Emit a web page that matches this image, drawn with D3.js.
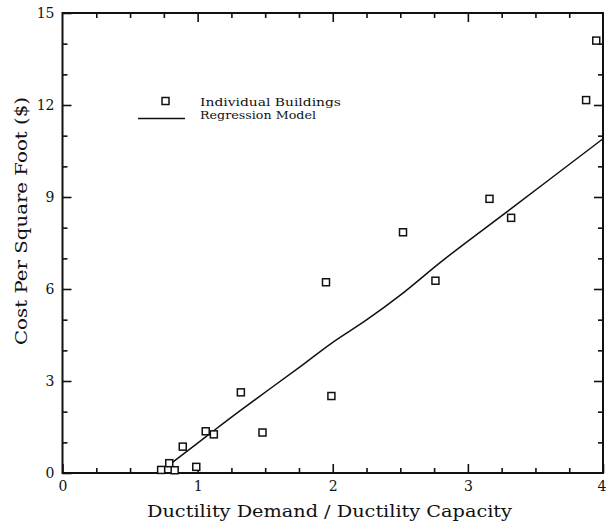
<!DOCTYPE html>
<html><head>
<meta charset="utf-8">
<script src="https://d3js.org/d3.v7.min.js"></script>
<style>
  body { margin: 0; background: #fff; }
  svg text { fill: #111; }
  .axis .domain { stroke: none; }
  .axis line { stroke: #111; stroke-width: 1.6; }
  .ticklabel text { font-family: "DejaVu Serif", serif; font-size: 14px; }
</style>
</head>
<body>
<svg id="chart" width="606" height="525"></svg>
<script>
// buildings (ductility ratio, cost per sq ft)
const ductility = [0.73, 0.79, 0.83, 0.89, 0.99, 1.06, 1.12, 1.32, 1.48, 1.95, 1.99, 2.52, 2.76, 3.16, 3.32, 3.875, 3.95];
const cost      = [0.10, 0.32, 0.09, 0.86, 0.20, 1.36, 1.26, 2.63, 1.32, 6.22, 2.51, 7.85, 6.27, 8.94, 8.32, 12.16, 14.1];

// regression curve
const modelX = [0.77, 1.06, 1.32, 1.76, 1.99, 2.25, 2.50, 2.82, 3.32, 4.0];
const modelY = [0.20, 1.18, 2.05, 3.47, 4.23, 4.99, 5.80, 6.95, 8.62, 10.9];

const xMajor = [0, 1, 2, 3, 4];
const yMajor = [0, 3, 6, 9, 12, 15];

const svg = d3.select("#chart");
const mLeft = 62.5, mRight = 603, mTop = 13, mBottom = 473;

const x = d3.scaleLinear().domain([0, 4]).range([mLeft, mRight]);
const y = d3.scaleLinear().domain([0, 15]).range([mBottom, mTop]);

const xMinor = d3.range(0, 4.001, 0.25).filter(v => v % 1 !== 0);
const yMinor = d3.range(0, 15.001, 1).filter(v => v % 3 !== 0);

// frame
svg.append("rect")
  .attr("x", mLeft).attr("y", mTop)
  .attr("width", mRight - mLeft).attr("height", mBottom - mTop)
  .attr("fill", "none").attr("stroke", "#111").attr("stroke-width", 2);

function addAxis(axisFn, scale, values, size, transform, labels) {
  const a = axisFn(scale).tickValues(values).tickSizeInner(-size).tickSizeOuter(0).tickPadding(8);
  a.tickFormat(labels ? d3.format("d") : "");
  return svg.append("g").attr("class", "axis" + (labels ? " ticklabel" : ""))
    .attr("transform", transform).call(a);
}

// bottom
const xAxisG = addAxis(d3.axisBottom, x, xMajor, 9, `translate(0,${mBottom})`, true);
addAxis(d3.axisBottom, x, xMinor, 5, `translate(0,${mBottom})`, false);
// top
addAxis(d3.axisTop, x, xMajor.slice(1, 4), 9, `translate(0,${mTop})`, false);
addAxis(d3.axisTop, x, xMinor, 5, `translate(0,${mTop})`, false);
// left
addAxis(d3.axisLeft, y, yMajor, 9, `translate(${mLeft},0)`, true);
addAxis(d3.axisLeft, y, yMinor, 5, `translate(${mLeft},0)`, false);
// right
addAxis(d3.axisRight, y, yMajor.slice(1, 5), 9, `translate(${mRight},0)`, false);
addAxis(d3.axisRight, y, yMinor, 5, `translate(${mRight},0)`, false);

svg.selectAll(".ticklabel .tick text").attr("fill", "#111");
// last x label sits at the page edge, pull it in a little
xAxisG.selectAll(".tick text").filter(d => d === 4).attr("text-anchor", "end").attr("dx", 3);

// regression model
const model = modelX.map((v, i) => [v, modelY[i]]);
svg.append("path")
  .datum(model)
  .attr("fill", "none").attr("stroke", "#111").attr("stroke-width", 1.5)
  .attr("d", d3.line().curve(d3.curveCatmullRom).x(d => x(d[0])).y(d => y(d[1])));

// buildings
const sq = 7;
svg.append("g").selectAll("rect")
  .data(ductility.map((v, i) => [v, cost[i]]))
  .join("rect")
  .attr("x", d => x(d[0]) - sq / 2)
  .attr("y", d => y(d[1]) - sq / 2)
  .attr("width", sq).attr("height", sq)
  .attr("fill", "#fff").attr("stroke", "#111").attr("stroke-width", 1.5);

// legend
const lg = svg.append("g").style("font-family", "DejaVu Serif, serif").style("font-size", "11px");
lg.append("rect").attr("x", 162).attr("y", 97.5).attr("width", 7).attr("height", 7)
  .attr("fill", "#fff").attr("stroke", "#111").attr("stroke-width", 1.5);
lg.append("line").attr("x1", 138).attr("x2", 185).attr("y1", 118.5).attr("y2", 118.5)
  .attr("stroke", "#111").attr("stroke-width", 1.5);
lg.append("text").attr("x", 200).attr("y", 106).text("Individual Buildings")
  .attr("textLength", 141).attr("lengthAdjust", "spacingAndGlyphs");
lg.append("text").attr("x", 200).attr("y", 118.5).text("Regression Model")
  .attr("textLength", 116).attr("lengthAdjust", "spacingAndGlyphs");

// axis titles
svg.append("text")
  .attr("x", (147 + 512) / 2).attr("y", 517)
  .attr("text-anchor", "middle")
  .style("font-family", "DejaVu Serif, serif").style("font-size", "17px")
  .attr("textLength", 365).attr("lengthAdjust", "spacingAndGlyphs")
  .text("Ductility Demand / Ductility Capacity");

svg.append("text")
  .attr("transform", "translate(27,221) rotate(-90)")
  .attr("text-anchor", "middle")
  .style("font-family", "DejaVu Serif, serif").style("font-size", "17px")
  .attr("textLength", 248).attr("lengthAdjust", "spacingAndGlyphs")
  .text("Cost Per Square Foot ($)");
</script>
</body>
</html>
